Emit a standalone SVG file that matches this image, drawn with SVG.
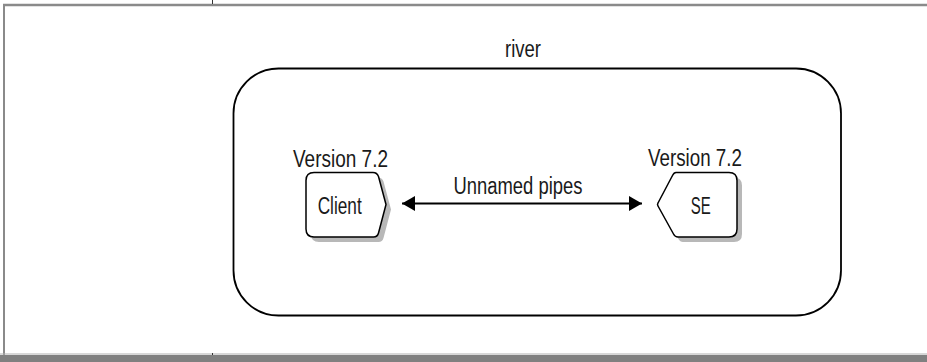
<svg xmlns="http://www.w3.org/2000/svg" xmlns:xlink="http://www.w3.org/1999/xlink" width="927" height="362" viewBox="0 0 927 362">
  <style>
    .lbl { font-family: "Liberation Sans", Arial, sans-serif; font-size: 23px; fill: #1a1a1a; text-anchor: middle; }
    .node { fill: #ffffff; stroke: #000000; stroke-width: 1.5; stroke-linejoin: round; }
    .shadow { fill: #b8b8b8; stroke: none; }
    .frame { stroke: #8a8a8a; fill: none; }
  </style>
  <defs>
    <path id="clientShape" d="M314,172.5 L373,172.5 Q377,172.5 378.5,176.5 L386,204.5 L378.5,233 Q377.5,237 373.5,237 L314,237 Q306,237 306,229 L306,180.5 Q306,172.5 314,172.5 Z"/>
    <path id="seShape" d="M676,172.5 L729,172.5 Q737,172.5 737,180.5 L737,229 Q737,237 729,237 L678,237 Q675,237 673.5,234 L658,206 Q657,204.5 658,203 L672.5,175.5 Q674,172.5 676,172.5 Z"/>
    <marker id="arrow" markerUnits="userSpaceOnUse" markerWidth="14" markerHeight="15" refX="13" refY="7.5" orient="auto-start-reverse">
      <path d="M0,0 L13,7.5 L0,15 Z" fill="#000000"/>
    </marker>
  </defs>

  <g id="frame">
    <line class="frame" x1="3" y1="5" x2="927" y2="5" stroke-width="2.5"/>
    <line class="frame" x1="4" y1="4" x2="4" y2="355" stroke-width="2"/>
    <line x1="0" y1="354" x2="927" y2="354" stroke="#b0b0b0" stroke-width="1"/>
    <rect x="0" y="355" width="927" height="7" fill="#808080"/>
    <line x1="212.5" y1="0" x2="212.5" y2="4" stroke="#333333" stroke-width="1"/>
    <line x1="212.5" y1="353" x2="212.5" y2="355" stroke="#333333" stroke-width="1"/>
  </g>

  <g id="river">
    <rect x="233.5" y="68.5" width="607.5" height="247" rx="45" ry="45" fill="none" stroke="#000000" stroke-width="1.8"/>
    <text class="lbl" x="523" y="57" textLength="36" lengthAdjust="spacingAndGlyphs">river</text>
  </g>

  <g id="client">
    <use xlink:href="#clientShape" class="shadow" transform="translate(5,5)"/>
    <use xlink:href="#clientShape" class="node"/>
    <text class="lbl" x="340.5" y="167" textLength="95" lengthAdjust="spacingAndGlyphs">Version 7.2</text>
    <text class="lbl" x="339.7" y="213.5" textLength="44" lengthAdjust="spacingAndGlyphs">Client</text>
  </g>

  <g id="se">
    <use xlink:href="#seShape" class="shadow" transform="translate(5,5)"/>
    <use xlink:href="#seShape" class="node"/>
    <text class="lbl" x="695" y="166" textLength="94" lengthAdjust="spacingAndGlyphs">Version 7.2</text>
    <text class="lbl" x="700.7" y="213.5" textLength="20" lengthAdjust="spacingAndGlyphs">SE</text>
  </g>

  <g id="connectors">
    <line x1="402" y1="203.5" x2="642" y2="203.5" stroke="#000000" stroke-width="2" marker-start="url(#arrow)" marker-end="url(#arrow)"/>
    <text class="lbl" x="518" y="193.5" textLength="129" lengthAdjust="spacingAndGlyphs">Unnamed pipes</text>
  </g>
</svg>
